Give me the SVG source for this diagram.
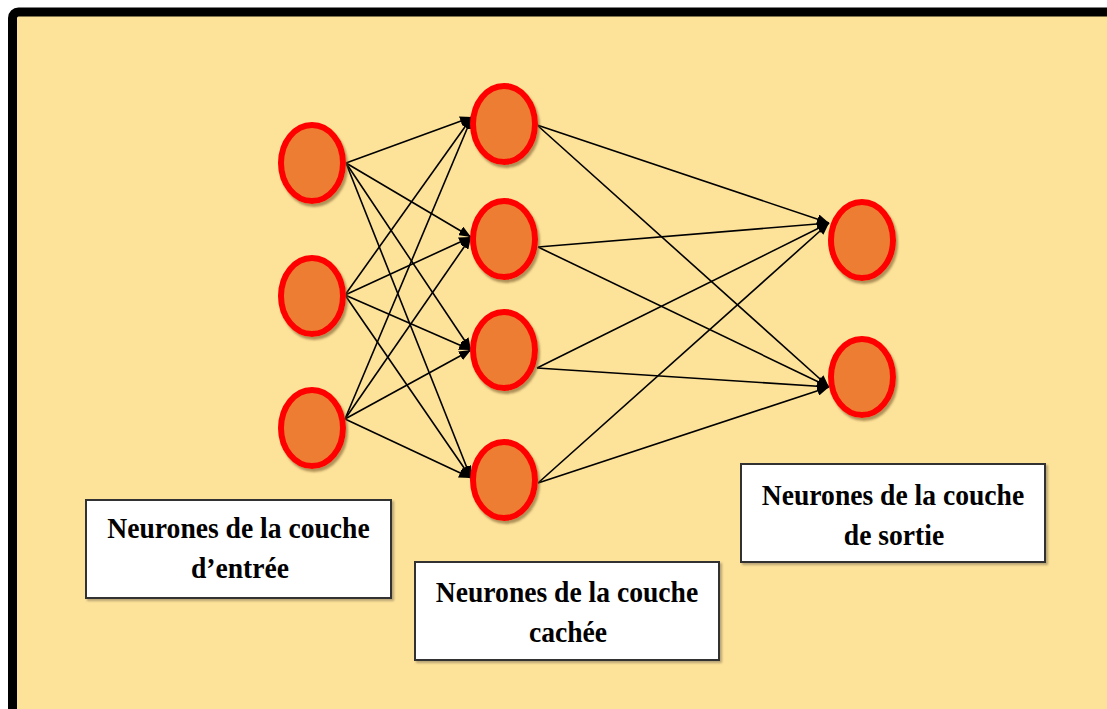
<svg xmlns="http://www.w3.org/2000/svg" width="1107" height="709" viewBox="0 0 1107 709">
  <style>
    .node { fill: #ED7D31; stroke: #FF0000; stroke-width: 6; filter: url(#sh); }
    .box { fill: #FFFFFF; stroke: #333333; stroke-width: 2; filter: url(#sh2); }
    .lbl { font-family: "Liberation Serif", "Times New Roman", serif; font-weight: bold; font-size: 30px; fill: #000000; text-anchor: middle; }
    .edge { stroke: #000000; stroke-width: 1.6; fill: none; marker-end: url(#arr); }
  </style>
  <defs>
    <marker id="arr" viewBox="0 0 12 10" refX="12" refY="5" markerWidth="12" markerHeight="10" markerUnits="userSpaceOnUse" orient="auto">
      <path d="M0,0 L12,5 L0,10 z" fill="#000000"/>
    </marker>
    <filter id="sh" x="-20%" y="-20%" width="150%" height="150%">
      <feDropShadow dx="2" dy="3" stdDeviation="1.2" flood-color="#7A5A2A" flood-opacity="0.6"/>
    </filter>
    <filter id="sh2" x="-10%" y="-10%" width="120%" height="130%">
      <feDropShadow dx="2" dy="2" stdDeviation="1" flood-color="#8A7A5A" flood-opacity="0.6"/>
    </filter>
  </defs>

  <rect x="0" y="0" width="1107" height="709" fill="#FFFFFF"/>
  <rect x="12.5" y="12" width="1120" height="720" rx="6" fill="#FDE299" stroke="#000000" stroke-width="9"/>

  <g id="connectors">
    <line class="edge" x1="346" y1="163" x2="472" y2="117"/>
    <line class="edge" x1="346" y1="163" x2="471" y2="237"/>
    <line class="edge" x1="346" y1="163" x2="471" y2="350"/>
    <line class="edge" x1="346" y1="163" x2="471" y2="478"/>
    <line class="edge" x1="345" y1="295" x2="472" y2="117"/>
    <line class="edge" x1="345" y1="295" x2="471" y2="237"/>
    <line class="edge" x1="345" y1="295" x2="471" y2="350"/>
    <line class="edge" x1="345" y1="295" x2="471" y2="478"/>
    <line class="edge" x1="345" y1="419" x2="472" y2="117"/>
    <line class="edge" x1="345" y1="419" x2="471" y2="237"/>
    <line class="edge" x1="345" y1="419" x2="471" y2="350"/>
    <line class="edge" x1="345" y1="419" x2="471" y2="478"/>
    <line class="edge" x1="537" y1="125" x2="829" y2="223"/>
    <line class="edge" x1="537" y1="125" x2="829" y2="387"/>
    <line class="edge" x1="538" y1="247" x2="829" y2="223"/>
    <line class="edge" x1="538" y1="247" x2="829" y2="387"/>
    <line class="edge" x1="537" y1="368" x2="829" y2="223"/>
    <line class="edge" x1="537" y1="368" x2="829" y2="387"/>
    <line class="edge" x1="538" y1="483" x2="829" y2="223"/>
    <line class="edge" x1="538" y1="483" x2="829" y2="387"/>
  </g>

  <g id="in1"><ellipse class="node" cx="312" cy="163" rx="31" ry="38"/></g>
  <g id="in2"><ellipse class="node" cx="312" cy="296" rx="31" ry="38"/></g>
  <g id="in3"><ellipse class="node" cx="312" cy="428" rx="31" ry="38"/></g>

  <g id="hid1"><ellipse class="node" cx="504" cy="124" rx="31" ry="38"/></g>
  <g id="hid2"><ellipse class="node" cx="504" cy="239" rx="31" ry="38"/></g>
  <g id="hid3"><ellipse class="node" cx="504" cy="350" rx="31" ry="38"/></g>
  <g id="hid4"><ellipse class="node" cx="504" cy="480" rx="31" ry="38"/></g>

  <g id="out1"><ellipse class="node" cx="862" cy="240" rx="31" ry="38"/></g>
  <g id="out2"><ellipse class="node" cx="862" cy="377" rx="31" ry="38"/></g>

  <g id="label-input">
    <rect class="box" x="86" y="500" width="305" height="98"/>
    <text class="lbl" transform="translate(238.5,538) scale(0.92,1)">Neurones de la couche</text>
    <text class="lbl" transform="translate(240,578) scale(0.92,1)">d’entrée</text>
  </g>
  <g id="label-hidden">
    <rect class="box" x="415" y="562" width="304" height="98"/>
    <text class="lbl" transform="translate(567,602) scale(0.92,1)">Neurones de la couche</text>
    <text class="lbl" transform="translate(568,642) scale(0.92,1)">cachée</text>
  </g>
  <g id="label-output">
    <rect class="box" x="741" y="464" width="304" height="98"/>
    <text class="lbl" transform="translate(893,505) scale(0.92,1)">Neurones de la couche</text>
    <text class="lbl" transform="translate(894,545) scale(0.92,1)">de sortie</text>
  </g>
</svg>
